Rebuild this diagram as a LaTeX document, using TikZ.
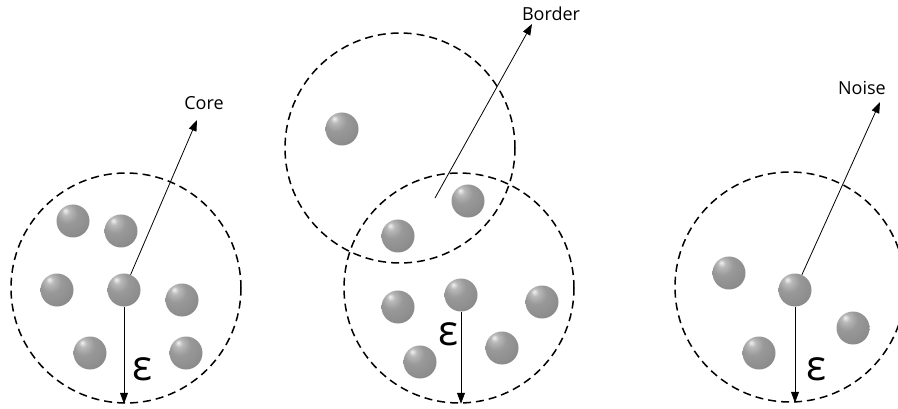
\documentclass[tikz,border=0pt]{standalone}
\usepackage{fontspec}
\setmainfont{Open Sans}
\usetikzlibrary{arrows.meta}
\pgfdeclareradialshading{sphereshade}{\pgfpoint{-12bp}{16bp}}{%
  color(0bp)=(white!90!gray);
  color(6bp)=(gray!55);
  color(16bp)=(gray!80);
  color(32bp)=(gray!90);
  color(44bp)=(gray!85!black);
  color(58bp)=(black!75);
  color(70bp)=(black!80)}
\begin{document}
\begin{tikzpicture}[x=1pt,y=-1pt,
  ball/.style={circle,minimum size=33pt,inner sep=0pt,shading=sphereshade},
  region/.style={circle,draw,dash pattern=on 8pt off 5pt,line width=1.5pt,minimum size=230pt,inner sep=0pt},
  ptr/.style={line width=0.8pt,-{Triangle[length=11pt,width=8pt]}},
  lbl/.style={font=\fontsize{18}{20}\selectfont},
  eps/.style={font=\fontsize{42}{42}\selectfont,inner sep=0pt}]
\useasboundingbox (0,0) rectangle (898,409);
\fill[white] (0,0) rectangle (898,409);
% regions
\node[region] (C1) at (126,288) {};
\node[region] (C2) at (400,148) {};
\node[region] (C3) at (459,288) {};
\node[region] (C4) at (790,287) {};
% balls of region 1
\node[ball] (a1) at (73,221) {};
\node[ball] (a2) at (121,231) {};
\node[ball] (a3) at (57,290) {};
\node[ball] (a4) at (124,290) {};
\node[ball] (a5) at (182,300) {};
\node[ball] (a6) at (90,353) {};
\node[ball] (a7) at (186,353) {};
% balls of regions 2 and 3
\node[ball] (b1) at (342,129) {};
\node[ball] (b2) at (468,201) {};
\node[ball] (b3) at (398,236) {};
\node[ball] (b4) at (398,307) {};
\node[ball] (b5) at (461,295) {};
\node[ball] (b6) at (542,302) {};
\node[ball] (b7) at (420,362) {};
\node[ball] (b8) at (502,348) {};
% balls of region 4
\node[ball] (d1) at (729,273) {};
\node[ball] (d2) at (795,290) {};
\node[ball] (d3) at (853,328) {};
\node[ball] (d4) at (759,353) {};
% labels
\coordinate (coreTip) at (197,120);
\node[lbl] (core) at (204,103) {Core};
\coordinate (borderStart) at (435,198);
\coordinate (borderTip) at (532,24);
\node[lbl] (border) at (551,14) {Border};
\coordinate (noiseTip) at (880,102);
\node[lbl] (noise) at (862,88) {Noise};
% pointers
\draw[ptr] (a4) -- (coreTip);
\draw[ptr] (borderStart) -- (borderTip);
\draw[ptr] (d2) -- (noiseTip);
% epsilon radii
\draw[ptr] (a4.south) -- (a4.south |- C1.south);
\draw[ptr] (b5.south) -- (b5.south |- C3.south);
\draw[ptr] (d2.south) -- (d2.south |- C4.south);
\node[eps] (e1) at (142,369) {ε};
\node[eps] (e2) at (448,334) {ε};
\node[eps] (e3) at (816,369) {ε};
\end{tikzpicture}
\end{document}
